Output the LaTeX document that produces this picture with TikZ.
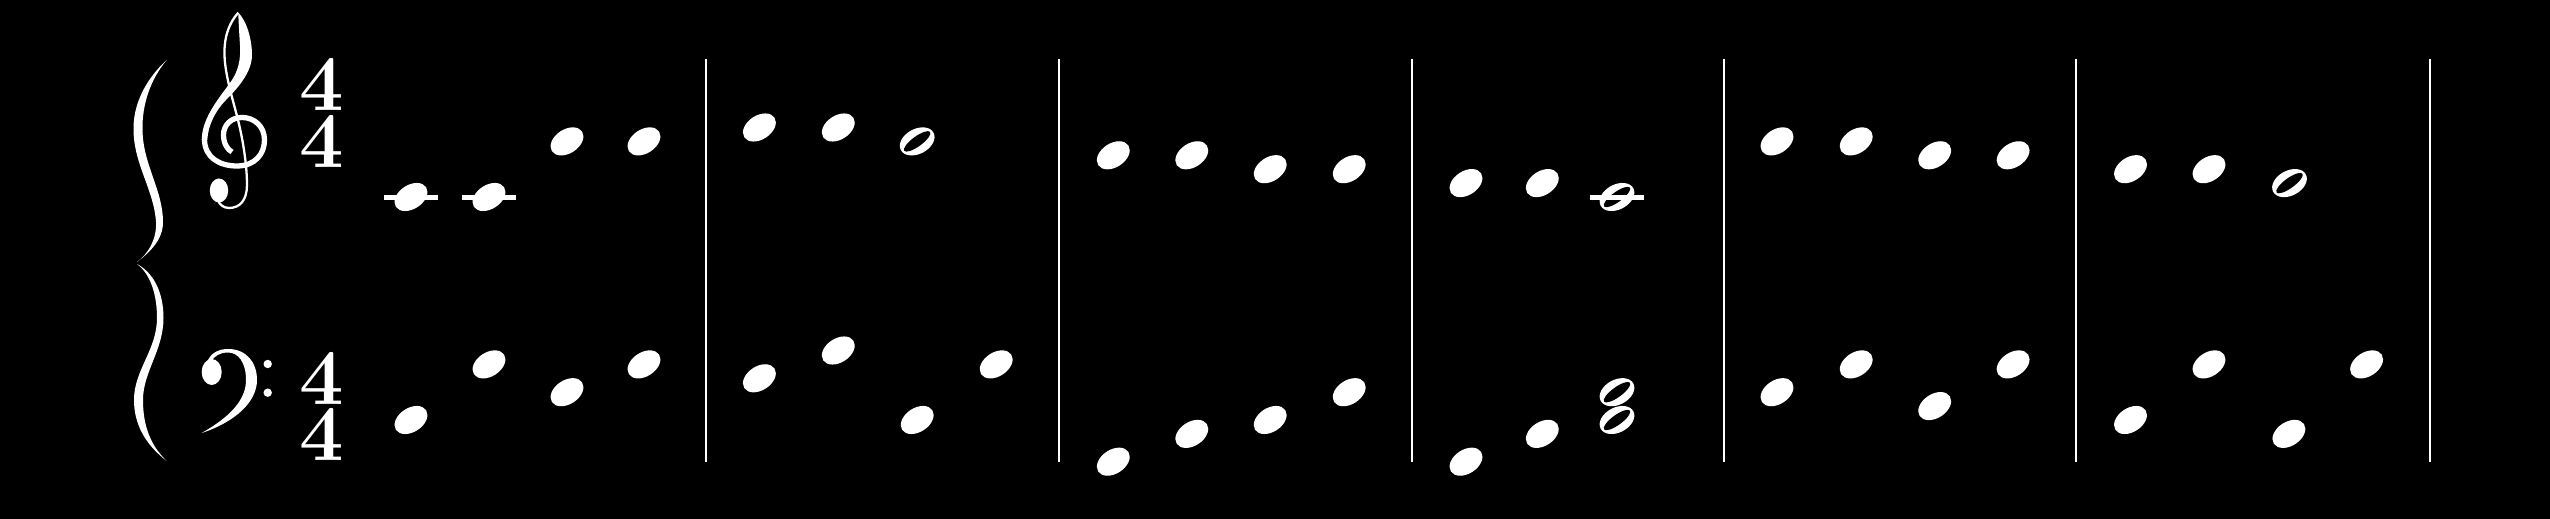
\documentclass[tikz,border=0pt]{standalone}
\usepackage{fontspec}
\begin{document}
\begin{tikzpicture}[x=0.01cm,y=-0.01cm,
  head/.style={fill=white},
  hole/.style={fill=black},
  ledger/.style={draw=white,line width=1.4pt},
  barl/.style={draw=white,line width=0.57pt},
  timesig/.style={text=white,inner sep=0pt,align=center,font=\fontsize{22.5}{16}\selectfont\bfseries\addfontfeature{FakeBold=3.5}}]
\fill[black] (0,0) rectangle (2550,519);
\useasboundingbox (0,0) rectangle (2550,519);
% brace
\fill[white] (166.7,60) .. controls (145,80) and (133,105) .. (133.5,130) .. controls (134,165) and (154,190) .. (156,222) .. controls (157,240) and (147,255) .. (137,262) .. controls (150,252) and (163,240) .. (163,222) .. controls (163,190) and (143,165) .. (142.5,130) .. controls (142,105) and (150,80) .. (166.7,60) -- cycle;
\fill[white] (137,264) .. controls (148,272) and (157,290) .. (157,318) .. controls (157,350) and (134,370) .. (134,400) .. controls (134,425) and (146,445) .. (166.7,461) .. controls (150,445) and (143,425) .. (143,400) .. controls (143,372) and (163.5,350) .. (163.5,318) .. controls (163.5,290) and (152,272) .. (137,264) -- cycle;
% treble clef
\fill[white] (238.3,12.7) .. controls (246,20) and (252,38) .. (252,55) .. controls (252,72) and (238,88) .. (226,100) .. controls (216,110) and (208,125) .. (207.3,140) -- (201.7,140) .. controls (202,120) and (215,103) .. (230,83) .. controls (238,72) and (241,60) .. (240,45) .. controls (239,30) and (238.5,20) .. (238.3,12.7) -- cycle;
\draw[white,line width=1.5pt] (204.5,140) .. controls (205,158) and (220,166) .. (237,166) .. controls (255,166) and (264.5,154) .. (264.5,140) .. controls (264.5,126) and (254,117.5) .. (242,117.5) .. controls (231,117.5) and (223.5,125) .. (223.5,135) .. controls (223.5,144) and (228,150) .. (232,152);
\draw[white,line width=0.65pt] (238.3,12.7) .. controls (230,22) and (224,35) .. (224.5,55) .. controls (225,75) and (233,100) .. (238,120) .. controls (243,140) and (247,165) .. (247,185) .. controls (247,200) and (240,208) .. (229,208) .. controls (223,208) and (219,204) .. (218,200);
\fill[white] (219,190.5) ellipse [x radius=9.2,y radius=12];
% bass clef
\fill[white] (208,360) .. controls (212,352) and (220,349) .. (228,349) .. controls (246,349) and (257,362) .. (257,380) .. controls (257,402) and (235,422) .. (201.7,433) .. controls (230,417) and (246,400) .. (246,380) .. controls (246,362) and (238,352.5) .. (228,352.5) .. controls (220,352.5) and (214,356) .. (211,362) -- cycle;
\fill[white] (211.7,372) ellipse [x radius=10,y radius=13];
\fill[white] (267.7,364) circle [radius=4.2];
\fill[white] (267.7,392.7) circle [radius=4.2];
% time signatures
\node[timesig] (tst) at (322,113) {4\\4};
\node[timesig] (tsb) at (322,406.6) {4\\4};
% treble notes
\foreach \x/\s in {411/0,489/0,567/4,644/4,759.4/5,838.3/5,1113.3/3,1191.8/3,1270.2/2,1349.2/2,1466/1,1542.3/1,1777/4,1856.2/4,1934.7/3,2013.1/3,2130.5/2,2209/2}
  \fill[head,shift={(\x,197-13.9*\s)},rotate=33] (0,0) ellipse [x radius=18,y radius=12];
\foreach \x/\s in {917.2/4,1617/0,2289.5/1} {
  \fill[head,shift={(\x,197-13.9*\s)},rotate=28] (0,0) ellipse [x radius=18.5,y radius=12.5];
  \fill[hole,shift={(\x,197-13.9*\s)},rotate=36] (0,0) ellipse [x radius=16,y radius=5];
}
\foreach \x in {411,489,1617}
  \draw[ledger] (\x-27,197.5) -- (\x+27,197.5);
% bass notes
\foreach \x/\s in {411/3,489/7,567/5,644/7,759.4/6,838.3/8,917.2/3,996.2/7,1113.3/0,1191.8/2,1270.2/3,1349.2/5,1466/0,1542.3/2,1777/5,1856.2/7,1934.7/4,2013.1/7,2130.5/3,2209/7,2288.9/2,2366.6/7}
  \fill[head,shift={(\x,461.7-13.9*\s)},rotate=33] (0,0) ellipse [x radius=18,y radius=12];
\foreach \s in {3,5} {
  \fill[head,shift={(1617,461.7-13.9*\s)},rotate=28] (0,0) ellipse [x radius=18.5,y radius=12.5];
  \fill[hole,shift={(1617,461.7-13.9*\s)},rotate=36] (0,0) ellipse [x radius=16,y radius=5];
}
% bar lines
\foreach \b in {705.5,1059.3,1412,1723.7,2076,2430}
  \draw[barl] (\b,59) -- (\b,461.7);
\end{tikzpicture}
\end{document}
